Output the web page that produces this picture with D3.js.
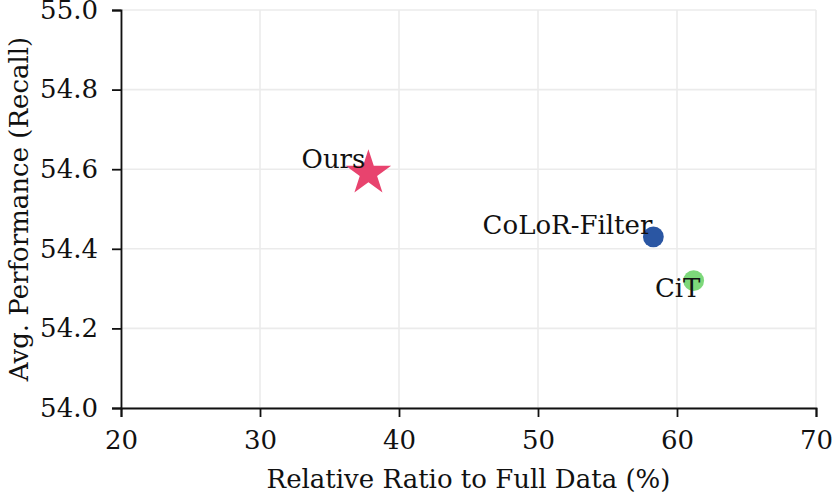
<!DOCTYPE html>
<html>
<head>
<meta charset="utf-8">
<script src="https://cdn.jsdelivr.net/npm/d3@7"></script>
<style>
  body { margin: 0; background: #fff; }
  text { font-family: "DejaVu Serif", serif; fill: #111; }
</style>
</head>
<body>
<svg id="chart" width="832" height="497"></svg>
<script>
// data
var methods = ["Ours", "CoLoR-Filter", "CiT"];
var ratios = [37.8, 58.3, 61.2];         // relative ratio to full data (%)
var recalls = [54.59, 54.43, 54.32];     // avg. performance (recall)
var xTicks = [20, 30, 40, 50, 60, 70];
var yTicks = [54.0, 54.2, 54.4, 54.6, 54.8, 55.0];

var W = 832, H = 497;
var margin = {left: 121, right: 16, top: 10, bottom: 89};
var FONT = "26px";

var svg = d3.select("#chart");

var x = d3.scaleLinear().domain([20, 70]).range([margin.left, W - margin.right]);
var y = d3.scaleLinear().domain([54.0, 55.0]).range([H - margin.bottom, margin.top]);

// grid
svg.append("g").selectAll("line.gx")
    .data(xTicks).enter().append("line")
    .attr("x1", d => x(d)).attr("x2", d => x(d))
    .attr("y1", y(54.0)).attr("y2", y(55.0))
    .style("stroke", "#ebebeb").style("stroke-width", 1.6);
svg.append("g").selectAll("line.gy")
    .data(yTicks).enter().append("line")
    .attr("x1", x(20)).attr("x2", x(70))
    .attr("y1", d => y(d)).attr("y2", d => y(d))
    .style("stroke", "#ebebeb").style("stroke-width", 1.6);

// axes
var xAxis = svg.append("g")
    .attr("transform", `translate(0, ${y(54.0)})`)
    .call(d3.axisBottom(x).tickValues(xTicks).tickFormat(d3.format("d")).tickSize(9).tickPadding(14));
var yAxis = svg.append("g")
    .attr("transform", `translate(${x(20)}, 0)`)
    .call(d3.axisLeft(y).tickValues(yTicks).tickFormat(d3.format(".1f")).tickSize(9).tickPadding(14));

[xAxis, yAxis].forEach(function(a){
    a.select(".domain").style("stroke", "#111").style("stroke-width", 1.8);
    a.selectAll(".tick line").style("stroke", "#111").style("stroke-width", 1.8);
    a.selectAll(".tick text").style("font-family", "DejaVu Serif").style("font-size", FONT).style("fill", "#111");
});

// axis titles
svg.append("text")
    .attr("x", x(45)).attr("y", H - 9)
    .style("text-anchor", "middle")
    .style("font-size", FONT)
    .text("Relative Ratio to Full Data (%)");
svg.append("text")
    .attr("transform", `translate(19, ${y(54.5)}) rotate(-90)`)
    .style("text-anchor", "middle")
    .style("dominant-baseline", "central")
    .style("font-size", FONT)
    .text("Avg. Performance (Recall)");

// points
var colors = ["#e8436e", "#2a56a3", "#7dd87a"];
var pts = methods.map((m, i) => ({name: m, rx: ratios[i], ry: recalls[i], color: colors[i]}));

var star = d3.symbol().type(d3.symbolStar).size(640);
var dot = d3.symbol().type(d3.symbolCircle).size(340);

svg.append("g").selectAll("path")
    .data(pts).enter().append("path")
    .attr("transform", d => `translate(${x(d.rx)}, ${y(d.ry)})`)
    .attr("d", (d, i) => i === 0 ? star() : dot())
    .style("fill", d => d.color);

// labels, offset in pixels from their point
var labelDx = [-3, -1, -16];
var labelDy = [-5, -3, 16];
var labelAnchor = ["end", "end", "middle"];

svg.append("g").selectAll("text")
    .data(pts).enter().append("text")
    .attr("x", (d, i) => x(d.rx) + labelDx[i])
    .attr("y", (d, i) => y(d.ry) + labelDy[i])
    .style("text-anchor", (d, i) => labelAnchor[i])
    .style("font-size", FONT)
    .text(d => d.name);
</script>
</body>
</html>
